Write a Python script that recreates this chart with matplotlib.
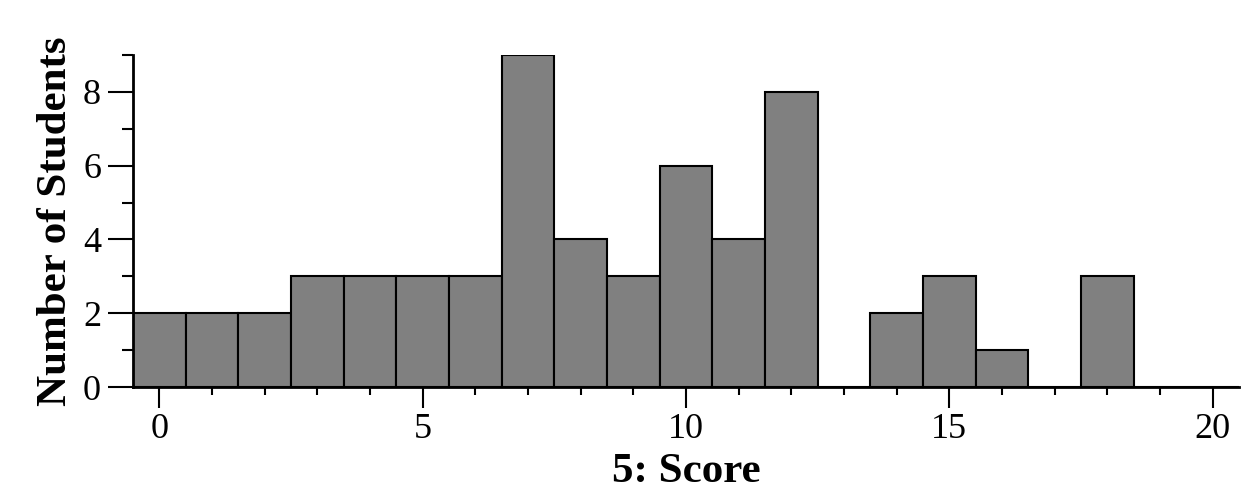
import matplotlib
matplotlib.use("Agg")
import matplotlib.pyplot as plt
from matplotlib.ticker import MultipleLocator

scores = list(range(0, 21))
counts = [2, 2, 2, 3, 3, 3, 3, 9, 4, 3, 6, 4, 8, 0, 2, 3, 1, 0, 3, 0, 0]

plt.rcParams['font.family'] = ['Liberation Serif', 'DejaVu Serif']

fig = plt.figure(figsize=(12.56, 5.04), dpi=100)
ax = fig.add_axes([133/1256, 1-387/504, (1239-133)/1256, (387-55)/504])

ax.bar(scores, counts, width=1.0, color='#808080', edgecolor='black', linewidth=1.5)

ax.set_xlim(-0.5, 20.5)
ax.set_ylim(0, 9)
for s in ['top', 'right']:
    ax.spines[s].set_visible(False)
for s in ['left', 'bottom']:
    ax.spines[s].set_linewidth(2)

ax.xaxis.set_major_locator(MultipleLocator(5))
ax.xaxis.set_minor_locator(MultipleLocator(1))
ax.yaxis.set_major_locator(MultipleLocator(2))
ax.yaxis.set_minor_locator(MultipleLocator(1))
ax.tick_params(axis='both', which='major', direction='out', width=1.5, labelsize=26)
ax.tick_params(axis='x', which='major', length=15, pad=4)
ax.tick_params(axis='y', which='major', length=18, pad=5)
ax.tick_params(axis='x', which='minor', length=6, width=1.5)
ax.tick_params(axis='y', which='minor', length=8, width=1.5)

ax.set_xlabel('5: Score', fontsize=31, fontweight='bold', labelpad=5)
ax.set_ylabel('Number of Students', fontsize=31, fontweight='bold', labelpad=6)

fig.savefig('out.png', dpi=100)
